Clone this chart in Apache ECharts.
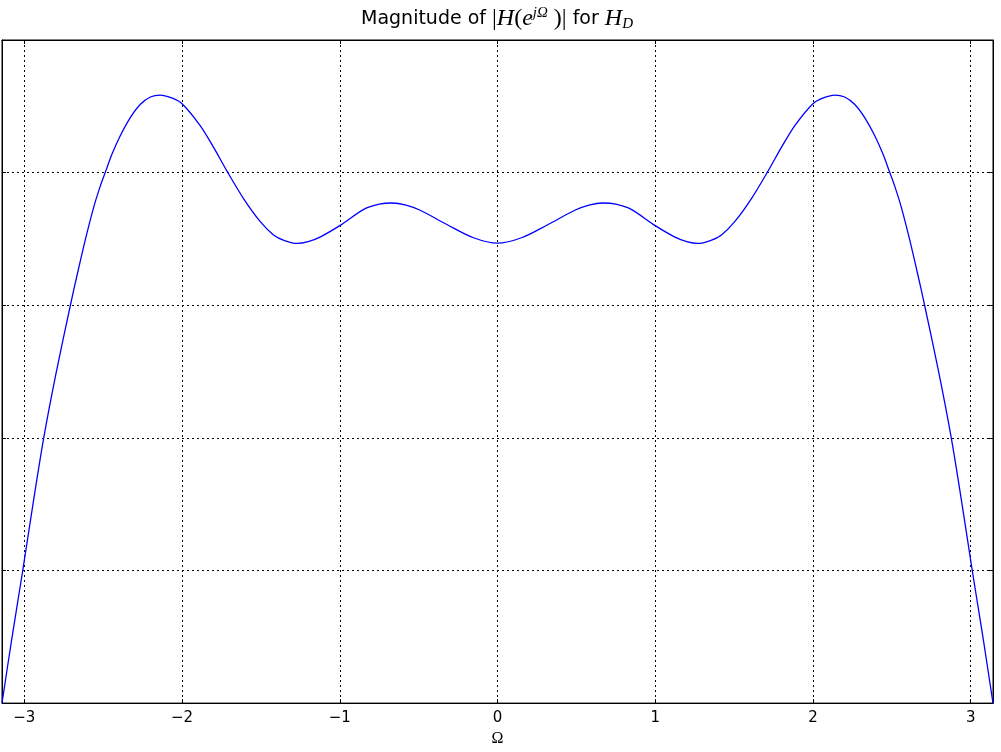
<!DOCTYPE html>
<html>
<head>
<meta charset="utf-8">
<script src="https://cdn.jsdelivr.net/npm/echarts@6/dist/echarts.min.js"></script>
<style>html,body{margin:0;padding:0;background:#fff;overflow:hidden}#c{width:1001px;height:752px}</style>
</head>
<body>
<div id="c"></div>
<script>
// Frequency (Omega) values, left half
const omegaLeft = [-3.1416, -3.080, -3.010, -2.940, -2.877, -2.800, -2.708, -2.665, -2.612, -2.560, -2.518, -2.486, -2.444, -2.391, -2.328, -2.264, -2.201, -2.138, -2.070, -2.000, -1.884, -1.800, -1.715, -1.608, -1.504, -1.418, -1.350, -1.270, -1.200, -1.122, -1.000, -0.848, -0.750, -0.669, -0.580, -0.490, -0.321, -0.152, 0.000];
const magLeft   = [0.000, 0.480, 1.000, 1.540, 2.000, 2.480, 3.000, 3.230, 3.500, 3.740, 3.900, 4.004, 4.140, 4.280, 4.415, 4.515, 4.570, 4.585, 4.565, 4.520, 4.353, 4.190, 4.011, 3.800, 3.630, 3.528, 3.488, 3.466, 3.480, 3.516, 3.600, 3.723, 3.762, 3.771, 3.755, 3.716, 3.609, 3.509, 3.468];
// Right half (mirror image of the left half)
const omegaRight = [0.152, 0.321, 0.490, 0.580, 0.669, 0.750, 0.848, 1.000, 1.122, 1.200, 1.270, 1.350, 1.418, 1.504, 1.608, 1.715, 1.800, 1.884, 2.000, 2.070, 2.138, 2.201, 2.264, 2.328, 2.391, 2.444, 2.486, 2.518, 2.560, 2.612, 2.665, 2.708, 2.800, 2.877, 2.940, 3.010, 3.080, 3.1416];
const magRight   = [3.509, 3.609, 3.716, 3.755, 3.771, 3.762, 3.723, 3.600, 3.516, 3.480, 3.466, 3.488, 3.528, 3.630, 3.800, 4.011, 4.190, 4.353, 4.520, 4.565, 4.585, 4.570, 4.515, 4.415, 4.280, 4.140, 4.004, 3.900, 3.740, 3.500, 3.230, 3.000, 2.480, 2.000, 1.540, 1.000, 0.480, 0.000];
const xTicks = [-3, -2, -1, 0, 1, 2, 3];

const omega = omegaLeft.concat(omegaRight);
const mag = magLeft.concat(magRight);
const data = omega.map((w, i) => [w, mag[i]]);

const chart = echarts.init(document.getElementById('c'), null, {renderer: 'canvas'});
const fmtX = v => {
  const r = Math.round(v);
  if (Math.abs(v - r) > 1e-6 || xTicks.indexOf(r) < 0) return '';
  return r < 0 ? '\u2212' + (-r) : String(r);
};
const dotted = {color: '#000', width: 1, type: [2, 3]};
const tickStyle = {show: true, inside: true, length: 4, lineStyle: {color: '#000', width: 1}};
const axisLine = {show: true, onZero: false, lineStyle: {color: '#000', width: 1}};
chart.setOption({
  animation: false,
  backgroundColor: '#fff',
  title: {
    left: 492,
    textAlign: 'center',
    top: 1,
    text: '{a|Magnitude of }{m||}{mi|H}{m|(}{mi|e}{sup|jΩ}{m| )|}{a| for }{mi|H}{sub|D}',
    textStyle: {
      fontWeight: 'normal',
      rich: {
        a: {fontFamily: 'DejaVu Sans', fontSize: 19, fontWeight: 'normal', color: '#000', lineHeight: 26},
        m: {fontFamily: 'Liberation Serif', fontSize: 24, fontWeight: 'normal', color: '#000', lineHeight: 26},
        mi: {fontFamily: 'Liberation Serif', fontStyle: 'italic', fontWeight: 'normal', fontSize: 24, color: '#000', lineHeight: 26},
        sup: {fontFamily: 'Liberation Serif', fontStyle: 'italic', fontWeight: 'normal', fontSize: 15, color: '#000', lineHeight: 12, verticalAlign: 'top'},
        sub: {fontFamily: 'Liberation Serif', fontStyle: 'italic', fontWeight: 'normal', fontSize: 15, color: '#000', lineHeight: 16, verticalAlign: 'bottom'}
      }
    }
  },
  grid: {left: 2, right: 8, top: 40, bottom: 45, show: true, borderColor: '#000', borderWidth: 1, containLabel: false},
  xAxis: [
    {
      type: 'value', min: -Math.PI, max: Math.PI, splitNumber: 6,
      position: 'bottom',
      axisLine: axisLine,
      axisTick: tickStyle,
      axisLabel: {formatter: fmtX, fontFamily: 'DejaVu Sans', fontSize: 15, color: '#000', margin: 8, showMinLabel: false, showMaxLabel: false},
      splitLine: {show: true, lineStyle: dotted},
      name: 'Ω', nameLocation: 'middle', nameGap: 20,
      nameTextStyle: {fontFamily: 'Liberation Serif', fontSize: 16, color: '#000'}
    },
    {
      type: 'value', min: -Math.PI, max: Math.PI, splitNumber: 6,
      position: 'top',
      axisLine: axisLine,
      axisTick: tickStyle,
      axisLabel: {show: false},
      splitLine: {show: false}
    }
  ],
  yAxis: [
    {
      type: 'value', min: 0, max: 5, interval: 1, position: 'left',
      axisLine: axisLine,
      axisTick: tickStyle,
      axisLabel: {show: false},
      splitLine: {show: true, lineStyle: dotted}
    },
    {
      type: 'value', min: 0, max: 5, interval: 1, position: 'right',
      axisLine: axisLine,
      axisTick: tickStyle,
      axisLabel: {show: false},
      splitLine: {show: false}
    }
  ],
  series: [{
    type: 'line',
    xAxisIndex: 0, yAxisIndex: 0,
    data: data,
    showSymbol: false,
    smooth: 0.3,
    lineStyle: {color: '#0000ff', width: 1.3},
    clip: true
  }]
});
</script>
</body>
</html>
